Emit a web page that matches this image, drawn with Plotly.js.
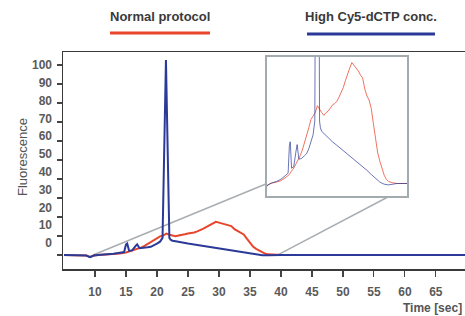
<!DOCTYPE html>
<html>
<head>
<meta charset="utf-8">
<script src="https://cdn.plot.ly/plotly-3.0.1.min.js"></script>
<style>html,body{margin:0;padding:0;background:#fff;}#chart{width:465px;height:316px;}</style>
</head>
<body>
<div id="chart"></div>
<script>
// ---- data ----
var timeNormal = [5, 8, 8.6, 9.2, 9.8, 10.5, 12, 13, 14, 15, 15.5, 16, 16.5, 17, 17.5, 18, 18.5, 19, 19.5, 20, 20.5, 21, 21.5, 22, 22.5, 23, 23.5, 24, 24.5, 25, 25.5, 26, 26.5, 27, 27.5, 28, 28.5, 29, 29.5, 30, 30.5, 31, 31.5, 32, 32.5, 33, 33.5, 34, 34.5, 35, 35.5, 36, 36.5, 37, 37.5, 38, 39, 40, 45, 50, 55, 60, 65, 70];
var normalProtocol = [0, 0, -0.3, -1.0, -0.3, 0, 0.2, 0.4, 0.8, 1.3, 1.8, 2.2, 2.8, 3.3, 4.0, 4.8, 5.8, 6.8, 8.0, 9.2, 9.8, 10.2, 11.2, 10.6, 10.2, 9.8, 10.2, 10.4, 10.9, 11.3, 11.5, 11.8, 12.4, 13.0, 13.8, 14.8, 15.8, 16.6, 17.4, 17.0, 16.6, 16.2, 15.6, 15.2, 13.6, 12.6, 12.0, 10.8, 8.6, 6.4, 4.4, 3.2, 2.2, 1.2, 0.6, 0.3, 0.1, 0, 0, 0, 0, 0, 0, 0];

var timeHigh = [5, 8, 8.6, 9.2, 9.8, 10.5, 11, 12, 13, 14, 14.7, 15.0, 15.2, 15.5, 16, 16.5, 16.8, 17.2, 17.8, 18.5, 19, 19.5, 20, 20.5, 20.9, 21.45, 22.0, 22.2, 22.5, 23, 23.5, 24, 25, 26, 27, 28, 29, 30, 31, 32, 33, 34, 35, 36, 37, 38, 40, 45, 50, 55, 60, 65, 70];
var highCy5 = [0, 0, -0.3, -1.2, -0.3, 0, 0.1, 0.3, 0.6, 1.1, 1.5, 5.5, 6.0, 2.2, 2.4, 4.5, 5.6, 3.5, 3.6, 4.0, 4.3, 5.0, 6.0, 7.0, 9.0, 102.6, 9.0, 8.0, 7.5, 7.2, 6.8, 6.5, 6.0, 5.5, 5.0, 4.5, 3.9, 3.4, 2.9, 2.4, 1.9, 1.3, 0.7, 0.2, -0.1, -0.2, 0, 0, 0, 0, 0, 0, 0];

var xTicks = [10, 15, 20, 25, 30, 35, 40, 45, 50, 55, 60, 65];
var yTicks = [0, 10, 20, 30, 40, 50, 60, 70, 80, 90, 100];
var yTickText = ["0", "10", "20", "30", "40", "50", "60", "70", "80", "90", "100"];
var seriesNames = ["Normal protocol", "High Cy5-dCTP conc."];
var seriesColors = ["#e8452c", "#2b3a98"];

// ---- geometry ----
var W = 465, H = 316;
var M = {l: 63, r: 0, t: 52, b: 47};
var PW = W - M.l - M.r, PH = H - M.t - M.b;
function pxX(px) { return (px - M.l) / PW; }
function pxY(py) { return (H - M.b - py) / PH; }

var xRange = [4.84, 69.7];
var yRange = [-7.4, 106.8];
var insetDomX = [pxX(267), pxX(407)];
var insetDomY = [pxY(196), pxY(57)];
var insetXRange = [9.8, 42.3];
var insetYRange = [-1.8, 18.2];

function mainToPaper(x, y) {
  return [(x - xRange[0]) / (xRange[1] - xRange[0]), (y - yRange[0]) / (yRange[1] - yRange[0])];
}
function insetToPaper(x, y) {
  return [insetDomX[0] + (x - insetXRange[0]) / (insetXRange[1] - insetXRange[0]) * (insetDomX[1] - insetDomX[0]),
          insetDomY[0] + (y - insetYRange[0]) / (insetYRange[1] - insetYRange[0]) * (insetDomY[1] - insetDomY[0])];
}

var font = "'Liberation Sans', Arial, sans-serif";

var traces = [
  {x: timeNormal, y: normalProtocol, type: 'scatter', mode: 'lines', name: seriesNames[0],
   line: {color: seriesColors[0], width: 2}, xaxis: 'x', yaxis: 'y', hoverinfo: 'skip'},
  {x: timeHigh, y: highCy5, type: 'scatter', mode: 'lines', name: seriesNames[1],
   line: {color: seriesColors[1], width: 2}, xaxis: 'x', yaxis: 'y', hoverinfo: 'skip'},
  {x: timeNormal, y: normalProtocol, type: 'scatter', mode: 'lines', name: seriesNames[0],
   line: {color: seriesColors[0], width: 1}, opacity: 0.75, xaxis: 'x2', yaxis: 'y2', hoverinfo: 'skip'},
  {x: timeHigh, y: highCy5, type: 'scatter', mode: 'lines', name: seriesNames[1],
   line: {color: seriesColors[1], width: 1}, opacity: 0.7, xaxis: 'x2', yaxis: 'y2', hoverinfo: 'skip'}
];

var c1a = mainToPaper(9.7, 0), c1b = insetToPaper(insetXRange[0], 0);
var c2a = mainToPaper(39.5, 0), c2b = insetToPaper(38.3, insetYRange[0]);

var layout = {
  width: W, height: H,
  margin: M,
  paper_bgcolor: '#ffffff',
  plot_bgcolor: '#ffffff',
  showlegend: false,
  font: {family: font, size: 12, color: '#555555'},
  xaxis: {
    domain: [0, 1], range: xRange, tickvals: xTicks, ticktext: xTicks.map(String),
    showline: true, mirror: true, linecolor: '#3a3a3a', linewidth: 1.5,
    ticks: 'outside', ticklen: 6, tickwidth: 1.2, tickcolor: '#444',
    showgrid: false, zeroline: false,
    tickfont: {family: font, size: 12, color: '#5a5a5a', weight: 'bold'},
    ticklabelstandoff: 5
  },
  yaxis: {
    domain: [0, 1], range: yRange, tickvals: yTicks, showticklabels: false,
    showline: true, mirror: false, linecolor: '#3a3a3a', linewidth: 1.5,
    ticks: 'outside', ticklen: 5, tickwidth: 1.2, tickcolor: '#444',
    showgrid: false, zeroline: false
  },
  // labels of the y axis are printed on a slightly compressed scale in the reference
  yaxis3: {
    overlaying: 'y', anchor: 'x', side: 'left', range: [-14.6, 107.3],
    tickvals: yTicks, ticktext: yTickText, ticks: '', showline: false,
    showgrid: false, zeroline: false,
    tickfont: {family: font, size: 12, color: '#5a5a5a', weight: 'bold'},
    ticklabelstandoff: 10
  },
  xaxis2: {
    domain: insetDomX, range: insetXRange, anchor: 'y2',
    showline: true, mirror: true, linecolor: '#a3abaf', linewidth: 2,
    showticklabels: false, ticks: '', showgrid: false, zeroline: false
  },
  yaxis2: {
    domain: insetDomY, range: insetYRange, anchor: 'x2',
    showline: true, mirror: true, linecolor: '#a3abaf', linewidth: 2,
    showticklabels: false, ticks: '', showgrid: false, zeroline: false
  },
  shapes: [
    {type: 'rect', xref: 'paper', yref: 'paper', x0: insetDomX[0], x1: insetDomX[1], y0: insetDomY[0], y1: insetDomY[1],
     fillcolor: '#ffffff', line: {width: 0}, layer: 'below'},
    {type: 'line', xref: 'paper', yref: 'paper', x0: c1a[0], y0: c1a[1], x1: c1b[0], y1: c1b[1],
     line: {color: '#a8aeb1', width: 1.5}, layer: 'below'},
    {type: 'line', xref: 'paper', yref: 'paper', x0: c2a[0], y0: c2a[1], x1: c2b[0], y1: c2b[1],
     line: {color: '#a8aeb1', width: 1.5}, layer: 'below'},
    {type: 'line', xref: 'paper', yref: 'paper', x0: pxX(110), x1: pxX(210), y0: pxY(33), y1: pxY(33),
     line: {color: seriesColors[0], width: 3}},
    {type: 'line', xref: 'paper', yref: 'paper', x0: pxX(307), x1: pxX(435), y0: pxY(34), y1: pxY(34),
     line: {color: seriesColors[1], width: 3}}
  ],
  annotations: [
    {text: '<b>' + seriesNames[0] + '</b>', xref: 'paper', yref: 'paper', x: pxX(160), y: pxY(17),
     xanchor: 'center', yanchor: 'middle', showarrow: false, font: {family: font, size: 13, color: '#3a3a3a'}},
    {text: '<b>' + seriesNames[1] + '</b>', xref: 'paper', yref: 'paper', x: pxX(371), y: pxY(17),
     xanchor: 'center', yanchor: 'middle', showarrow: false, font: {family: font, size: 13, color: '#3a3a3a'}},
    {text: 'Fluorescence', xref: 'paper', yref: 'paper', x: pxX(22), y: pxY(157), textangle: -90,
     xanchor: 'center', yanchor: 'middle', showarrow: false, font: {family: font, size: 13, color: '#555555'}},
    {text: 'Time [sec]', xref: 'paper', yref: 'paper', x: pxX(464), y: pxY(308),
     xanchor: 'right', yanchor: 'middle', showarrow: false, font: {family: font, size: 12, color: '#555555', weight: 'bold'}}
  ]
};

traces.push({x: [null], y: [null], type: 'scatter', mode: 'lines', xaxis: 'x', yaxis: 'y3', hoverinfo: 'skip', showlegend: false});

Plotly.newPlot('chart', traces, layout, {staticPlot: true, displayModeBar: false});
</script>
</body>
</html>
